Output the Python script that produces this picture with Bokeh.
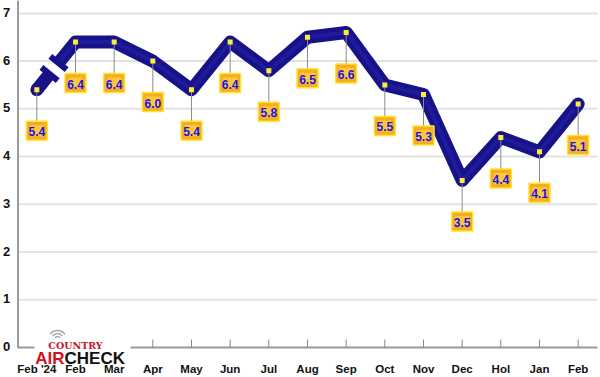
import math
from bokeh.plotting import figure
from bokeh.models import Range1d
from bokeh.embed import file_html
from bokeh.resources import INLINE
from bokeh.core.properties import value

# ---- data ----
months = ["Feb '24", "Feb", "Mar", "Apr", "May", "Jun", "Jul", "Aug", "Sep",
          "Oct", "Nov", "Dec", "Hol", "Jan", "Feb"]
ratings = [5.4, 6.4, 6.4, 6.0, 5.4, 6.4, 5.8, 6.5, 6.6, 5.5, 5.3, 3.5, 4.4, 4.1, 5.1]
y_ticks = [0, 1, 2, 3, 4, 5, 6, 7]

# ---- layout ----
W, H = 600, 377
BL, BR = 17, 3
AXIS_PX = 347                         # pixel row of the zero line
Y_MAX = 7.27
n = len(months)
xs = list(range(n))
ppx = (W - BL - BR) / n               # pixels per x unit
ppy = AXIS_PX / Y_MAX                 # pixels per y unit
Y_MIN = -(H - AXIS_PX) / ppy
X_LO, X_HI = -0.5, n - 0.5
FONT = value("Liberation Sans")

p = figure(width=W, height=H, output_backend="svg", toolbar_location=None,
           x_range=Range1d(X_LO - BL / ppx, X_HI + BR / ppx),
           y_range=Range1d(Y_MIN, Y_MAX),
           min_border=0, x_axis_location=None, y_axis_location=None)
p.outline_line_color = None
p.background_fill_color = "white"
p.xgrid.visible = False
p.ygrid.visible = False

# grid
grid_y = y_ticks[1:]
p.segment([X_LO] * len(grid_y), grid_y, [X_HI] * len(grid_y), grid_y,
          line_color="#e2e2e2", line_width=2)

# axes drawn as glyphs
AX_C = "#9a9a9a"
x_left = X_LO + 0.5 / ppx
p.segment([x_left], [0], [x_left], [Y_MAX], line_color=AX_C, line_width=2)
p.segment([X_LO], [0], [X_HI], [0], line_color=AX_C, line_width=2)
p.segment(xs, [0] * n, xs, [8 / ppy] * n, line_color="#8a8a8a", line_width=1)
p.text(xs, [0] * n, text=months, text_align="center", text_baseline="middle",
       y_offset=21, text_color="#111111", text_font=FONT,
       text_font_style="bold", text_font_size="11.5px")
p.text([X_LO] * len(y_ticks), y_ticks, text=[str(t) for t in y_ticks],
       text_align="center", text_baseline="middle", x_offset=-11, y_offset=-1,
       text_color="#111111", text_font=FONT,
       text_font_style="bold", text_font_size="13px")

# ---- line with break between first two points ----
LINE_C = "#17128a"
LW = 13
x0, y0 = xs[0], ratings[0]
x1, y1 = xs[1], ratings[1]
t_a, t_b = 0.33, 0.56
bax, bay = x0 + t_a * (x1 - x0), y0 + t_a * (y1 - y0)
bbx, bby = x0 + t_b * (x1 - x0), y0 + t_b * (y1 - y0)

p.line([x0, bax], [y0, bay], line_color=LINE_C, line_width=LW, line_cap="butt")
p.line([bbx] + xs[1:], [bby] + ratings[1:], line_color=LINE_C, line_width=LW,
       line_join="round", line_cap="butt")
p.line([bbx] + xs[1:], [bby] + ratings[1:], line_color="#2a24aa", line_width=4,
       line_join="round", line_cap="butt", line_alpha=0.5)
p.scatter([xs[0], xs[-1]], [ratings[0], ratings[-1]], marker="circle",
          size=LW, fill_color=LINE_C, line_color=None)

ang = math.atan2((y1 - y0) * ppy, (x1 - x0) * ppx)
p.rect([bax, bbx], [bay, bby], width=6, height=21, width_units="screen",
       height_units="screen", angle=ang, fill_color=LINE_C, line_color=None)

# ---- leader lines, label boxes ----
DROP = 41 / ppy
BOX_W, BOX_H = 21, 19
p.segment(xs, ratings, xs, [v - DROP + (BOX_H / 2) / ppy for v in ratings],
          line_color="#8c8c8c", line_width=1)

p.scatter(xs, ratings, marker="square", size=5, fill_color="#ffee33",
          line_color=None)

ly = [v - DROP for v in ratings]
p.rect(xs, ly, width=BOX_W, height=BOX_H, width_units="screen",
       height_units="screen", fill_color="#f7ad1c", line_color="#ffe23a",
       line_width=1.5)
p.rect(xs, ly, width=14, height=11, width_units="screen", height_units="screen",
       fill_color="#ffc73a", line_color=None)
p.text(xs, ly, text=[f"{v:.1f}" for v in ratings], text_align="center",
       text_baseline="middle", text_color="#1414e8", text_font=FONT,
       text_font_style="bold", text_font_size="12px", y_offset=1)

# ---- logo ----
def px2x(px):
    return X_LO + (px - BL) / ppx

def px2y(py):
    return (AXIS_PX - py) / ppy

p.rect([px2x(82)], [px2y(339)], width=96, height=40, width_units="screen",
       height_units="screen", fill_color="white", line_color=None, level="overlay")
p.arc([px2x(57)] * 3, [px2y(339)] * 3, radius=[3, 6, 9], radius_units="screen",
      start_angle=math.radians(35), end_angle=math.radians(145),
      line_color="#a8a8a8", line_width=1.5, level="overlay")
p.text([px2x(75)], [px2y(345)], text=["COUNTRY"], text_align="center",
       text_baseline="alphabetic", text_color="#c8102e",
       text_font=value("DejaVu Serif"), text_font_style="bold",
       text_font_size="9.5px", level="overlay")
p.text([px2x(64)], [px2y(358)], text=["AIR"], text_align="right",
       text_baseline="alphabetic", text_color="#d0121f",
       text_font=FONT, text_font_style="bold",
       text_font_size="17px", level="overlay")
p.text([px2x(64)], [px2y(358)], text=["CHECK"], text_align="left",
       text_baseline="alphabetic", text_color="#111111",
       text_font=FONT, text_font_style="bold",
       text_font_size="17px", level="overlay")

open("out.html", "w").write(file_html(p, INLINE))
